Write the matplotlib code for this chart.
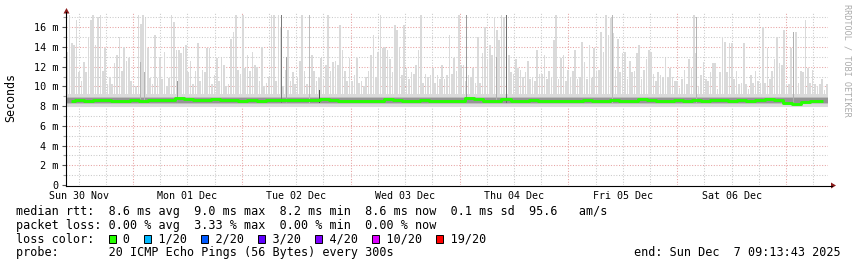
import numpy as np
import matplotlib
matplotlib.use("Agg")
import matplotlib.pyplot as plt
from matplotlib.patches import Rectangle, Polygon

W, H = 857, 267
MONO = "DejaVu Sans Mono"

# ------------------------------------------------------------
# data (times in hours from left edge, values in ms)
# ------------------------------------------------------------
graph_hours = 168.0
start_clock = 9 + 13 / 60 + 43 / 3600     # Sun 30 Nov 09:13:43
day_labels = ["Sun 30 Nov", "Mon 01 Dec", "Tue 02 Dec", "Wed 03 Dec",
              "Thu 04 Dec", "Fri 05 Dec", "Sat 06 Dec"]
ytick_values = [0, 2, 4, 6, 8, 10, 12, 14, 16]
ytick_labels = ["0", "2 m", "4 m", "6 m", "8 m", "10 m", "12 m", "14 m", "16 m"]

# median rtt, 2 hour bins
median_ms = [
    8.55, 8.6, 8.55, 8.6, 8.6, 8.55, 8.5, 8.6, 8.55, 8.6, 8.6, 8.65,
    8.8, 8.7, 8.65, 8.6, 8.7, 8.65, 8.6, 8.55, 8.6, 8.55, 8.6, 8.6,
    8.65, 8.6, 8.6, 8.65, 8.75, 8.6, 8.55, 8.5, 8.55, 8.5, 8.55, 8.7,
    8.6, 8.55, 8.55, 8.6, 8.55, 8.5, 8.55, 8.5, 8.85, 8.7, 8.5, 8.55,
    8.7, 8.55, 8.55, 8.6, 8.55, 8.5, 8.55, 8.5, 8.55, 8.6, 8.55, 8.55,
    8.6, 8.5, 8.55, 8.75, 8.6, 8.55, 8.55, 8.6, 8.55, 8.6, 8.55, 8.6,
    8.6, 8.55, 8.6, 8.55, 8.6, 8.7, 8.65, 8.3, 8.2, 8.45, 8.5, 8.5,
]

# slowest ping of each ~30 min slot (the light smoke spikes)
max_ping_ms = [
    13.5, 17.2, 14.4, 14.2, 16.7, 11.5, 10.5, 12.5, 11.5, 15.0,
    16.7, 17.2, 14.2, 17.0, 17.2, 11.6, 13.9, 10.2, 11.0, 10.2,
    12.4, 13.2, 15.0, 11.6, 14.0, 12.6, 12.9, 10.5, 10.2, 10.0,
    17.2, 16.3, 17.2, 16.9, 13.9, 10.8, 10.2, 15.2, 10.8, 12.9,
    10.7, 13.5, 10.0, 10.8, 17.2, 16.5, 13.7, 13.7, 13.4, 13.9,
    14.2, 11.5, 12.6, 10.2, 11.6, 14.4, 10.5, 11.7, 11.5, 13.9,
    13.9, 10.2, 11.2, 12.9, 10.5, 12.9, 12.2, 10.0, 10.2, 14.8,
    15.5, 17.2, 11.7, 11.3, 17.2, 11.9, 13.2, 11.6, 13.5,
    12.2, 12.0, 10.5, 14.0, 10.0, 10.3, 11.0, 17.2, 17.2, 10.5,
    17.2, 15.9, 10.0, 11.7, 15.7, 10.5, 11.5, 10.2, 11.0, 12.6,
    17.2, 11.6, 10.2, 10.5, 13.2, 11.6, 10.5, 10.8, 12.9, 10.7,
    12.2, 17.2, 11.6, 12.5, 12.6, 12.2, 16.2, 13.7, 11.6, 10.5,
    12.9, 10.5, 11.2, 12.9, 10.3, 10.5, 10.0, 11.0, 11.6, 13.2,
    15.2, 11.0, 13.5, 17.2, 13.9, 14.0, 13.7, 12.8, 11.5, 16.2,
    15.7, 14.0, 11.2, 16.2, 11.9, 10.7, 11.5, 11.3, 12.2, 13.7,
    17.2, 10.3, 11.3, 11.0, 11.2, 11.9, 10.3, 11.2, 10.7,
    12.2, 10.7, 11.2, 15.2, 11.3, 12.9, 11.6, 17.2, 12.2, 12.2,
    10.5, 11.2, 11.0, 11.9, 10.3, 15.0, 10.3, 13.4, 16.0, 12.8,
    14.2, 13.2, 17.0, 15.7, 14.7, 17.2, 17.0, 15.4, 13.2, 11.5,
    11.3, 12.8, 11.9, 11.7, 11.0, 11.5, 12.6, 10.7, 11.0, 10.5,
    13.7, 11.3, 11.3, 13.2, 10.7, 11.6, 11.0, 14.7, 17.2, 10.7,
    12.9, 13.2, 10.5, 11.7, 11.0, 11.6, 13.7, 10.7, 11.0, 14.5,
    12.5, 10.7, 14.2, 10.8, 13.9, 11.6, 11.7, 15.5, 13.5, 17.2,
    15.2, 16.9, 15.4, 11.7, 14.8, 11.5, 13.4, 13.5, 10.7, 12.6,
    11.5, 11.6, 13.4, 14.2, 10.7,
    11.7, 12.8, 13.7, 13.5, 11.3, 10.5, 11.5, 11.2, 11.0, 12.9,
    11.0, 11.9, 11.0, 10.5, 10.5, 9.8, 10.7, 11.7, 10.2, 12.8,
    11.9, 17.2, 13.4, 10.0, 11.2, 12.5, 10.7, 10.5, 11.5, 12.4,
    12.4, 9.7, 11.5, 15.0, 14.5, 11.5, 14.4, 14.4, 10.7, 11.6,
    10.2, 10.3, 14.4, 10.2, 9.7, 11.2, 10.3, 11.6, 10.5, 10.3,
    16.0, 10.3, 13.9, 10.7, 11.6, 12.8, 15.0, 12.4, 12.2, 15.7,
    10.2, 10.2, 13.9, 11.3, 15.5, 10.3, 11.6, 11.5, 16.7, 11.9,
    10.3, 11.7, 10.2, 10.0, 10.2, 10.7, 9.6, 10.2,
]

# darker smoke streaks (many pings slow at once)
dark_hours = [16.5, 17.2, 24.5, 47.6, 48.7, 53.6, 55.8, 88.4, 95.0, 97.2, 120.4, 139.1, 160.5]
dark_top_ms = [12.5, 11.5, 10.5, 17.2, 13.0, 17.2, 9.6, 17.2, 13.0, 17.2, 17.2, 17.0, 15.5]
dark_shade = ["#b4b4b4", "#b4b4b4", "#9a9a9a", "#7a7a7a", "#a4a4a4", "#bcbcbc", "#505050",
              "#9a9a9a", "#b0b0b0", "#6e6e6e", "#b8b8b8", "#b4b4b4", "#b0b0b0"]

# body of the smoke around the median
smoke_bands = [(7.95, 9.25, "#dadada"), (8.2, 8.95, "#bdbdbd"), (8.35, 8.78, "#959595")]

rtt_stats = {"avg": 8.6, "max": 9.0, "min": 8.2, "now": 8.6, "sd": 0.1, "ams": 95.6}
loss_stats = {"avg": 0.00, "max": 3.33, "min": 0.00, "now": 0.00}
loss_labels = ["0", "1/20", "2/20", "3/20", "4/20", "10/20", "19/20"]
loss_colors = ["#26ff00", "#00b8ff", "#0059ff", "#5e00ff", "#7e00ff", "#dd00ff", "#ff0000"]
probe_text = "20 ICMP Echo Pings (56 Bytes) every 300s"
end_text = "end: Sun Dec  7 09:13:43 2025"

# ------------------------------------------------------------
fig = plt.figure(figsize=(W / 100, H / 100), dpi=100)
fig.patch.set_facecolor("white")

ax = fig.add_axes([66 / W, 1 - 185 / H, 762 / W, (185 - 13.4) / H])
ax.set_xlim(0, graph_hours)
ax.set_ylim(0, 17.4)
for s in ax.spines.values():
    s.set_visible(False)

# grid
midnight0 = 24 - start_clock
noon0 = (12 - start_clock) % 24
for y in range(1, 18):
    major = y % 2 == 0
    ax.axhline(y, color="#e6a3a3" if major else "#cacaca", lw=0.75,
               ls=(0, (1, 1.6)), zorder=0)
majors = [midnight0 + 24 * k for k in range(7)]
t = noon0 % 6
while t < graph_hours:
    if min(abs(t - m) for m in majors) > 1:
        ax.axvline(t, color="#cacaca", lw=0.75, ls=(0, (1, 1.6)), zorder=0)
    t += 6
for m in majors:
    ax.axvline(m, color="#e6a3a3", lw=0.75, ls=(0, (1, 1.6)), zorder=0)

# smoke
n = len(max_ping_ms)
spike_t = (np.arange(n) + 0.5) * graph_hours / n
spike_top = np.array(max_ping_ms)
ax.bar(spike_t, spike_top - 7.95, bottom=7.95, width=0.36, color="#dadada",
       linewidth=0, zorder=1)
for lo, hi, col in smoke_bands:
    ax.fill_between([0, graph_hours], lo, hi, color=col, linewidth=0, zorder=2)
ax.bar(dark_hours, np.array(dark_top_ms) - 8.3, bottom=8.3, width=0.22,
       color=dark_shade, linewidth=0, zorder=3)

# median line
med_t = (np.arange(len(median_ms)) + 0.5) * graph_hours / len(median_ms)
ax.plot(med_t, median_ms, color="#26ff00", lw=2.1, drawstyle="steps-mid",
        solid_capstyle="butt", zorder=4)

# ticks
ax.set_yticks(ytick_values)
ax.set_yticklabels(ytick_labels, family=MONO, fontsize=7.3)
ax.set_yticks(range(1, 18, 2), minor=True)
ax.set_xticks([noon0 + 24 * k for k in range(7)])
ax.set_xticklabels(day_labels, family=MONO, fontsize=7.2)
ax.tick_params(axis="y", which="major", length=3, width=0.8, color="#555555", pad=2.4)
ax.tick_params(axis="y", which="minor", length=2, width=0.8, color="#999999")
ax.tick_params(axis="x", which="major", length=0, pad=4)

# overlay in pixel coordinates for axes arrows and legend text
ov = fig.add_axes([0, 0, 1, 1])
ov.set_xlim(0, W)
ov.set_ylim(H, 0)
ov.axis("off")

ov.plot([66.5, 832], [185.5, 185.5], color="black", lw=0.8)
ov.plot([66.5, 66.5], [185.5, 12], color="black", lw=0.8)
ov.add_patch(Polygon([[831, 182.5], [831, 188.5], [836, 185.5]], closed=True,
                     color="#8b1c1c", lw=0))
ov.add_patch(Polygon([[63.5, 13.5], [69.5, 13.5], [66.5, 8]], closed=True,
                     color="#8b1c1c", lw=0))

ov.text(11, 98, "Seconds", rotation=90, family=MONO, fontsize=8.4,
        ha="center", va="center")
ov.text(847, 60, "RRDTOOL / TOBI OETIKER", rotation=270, family=MONO,
        fontsize=6.1, color="#ababab", ha="center", va="center")

cw = 0.602 * 8.5 / 72 * 100   # monospace cell width in px
x0 = 16
row_y = [211, 225, 238.5, 252.5]
line1 = ("median rtt:  %.1f ms avg  %.1f ms max  %.1f ms min  %.1f ms now  %.1f ms sd  %.1f   am/s"
         % (rtt_stats["avg"], rtt_stats["max"], rtt_stats["min"], rtt_stats["now"],
            rtt_stats["sd"], rtt_stats["ams"]))
line2 = ("packet loss: %.2f %% avg  %.2f %% max  %.2f %% min  %.2f %% now"
         % (loss_stats["avg"], loss_stats["max"], loss_stats["min"], loss_stats["now"]))
line3 = "loss color:  "
boxes = []
for lab in loss_labels:
    boxes.append(len(line3))
    line3 += "  " + lab + "  "
line4 = "probe:       " + probe_text

for yy, txt in zip(row_y, [line1, line2, line3, line4]):
    ov.text(x0, yy, txt, family=MONO, fontsize=8.5, ha="left", va="center")
for c, col in zip(boxes, loss_colors):
    ov.add_patch(Rectangle((x0 + c * cw + 0.5, row_y[2] - 4), 7, 8, facecolor=col,
                           edgecolor="black", lw=0.7))
ov.text(841, row_y[3], end_text, family=MONO, fontsize=8.5, ha="right", va="center")

fig.savefig("out.png", dpi=100)
